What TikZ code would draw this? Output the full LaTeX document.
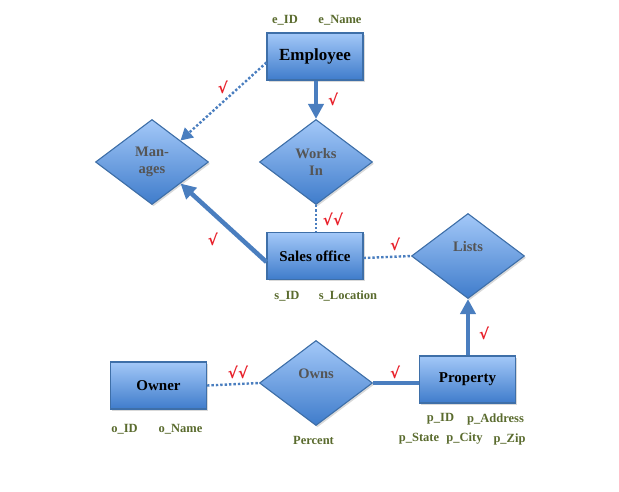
\documentclass[tikz,border=0pt]{standalone}
\usepackage{fontspec}
\setmainfont{Liberation Serif}
\newfontfamily\chkfont{DejaVu Sans}
\usetikzlibrary{shapes.geometric,arrows.meta,shadows}
\definecolor{boxtop}{HTML}{A3C8F8}
\definecolor{boxbot}{HTML}{3F7CCB}
\definecolor{edgec}{HTML}{3E6FA8}
\definecolor{linec}{HTML}{4A7EBF}
\definecolor{attrc}{HTML}{5A6B2E}
\definecolor{dgray}{HTML}{555555}
\definecolor{chk}{HTML}{E8202A}
\begin{document}
\begin{tikzpicture}[x=1pt,y=-1pt,
  entity/.style={rectangle, draw=edgec, line width=1.1pt, top color=boxtop, bottom color=boxbot,
    minimum width=96pt, minimum height=47pt, inner sep=0pt,
    font=\bfseries\fontsize{15}{17}\selectfont,
    drop shadow={shadow xshift=1.5pt, shadow yshift=-1.8pt, opacity=0.3}},
  rel/.style={diamond, draw=edgec, line width=1.1pt, top color=boxtop, bottom color=boxbot,
    minimum width=113pt, minimum height=85pt, inner sep=0pt, align=center, text=dgray,
    font=\bfseries\fontsize{14.5}{17}\selectfont,
    drop shadow={shadow xshift=1.5pt, shadow yshift=-1.8pt, opacity=0.3}},
  attr/.style={text=attrc, font=\bfseries\fontsize{12.5}{14}\selectfont, inner sep=0pt},
  chkm/.style={text=chk, font=\chkfont\bfseries\fontsize{15}{16}\selectfont, inner sep=0pt},
  thick line/.style={draw=linec, line width=4.5pt},
  dot line/.style={draw=linec, line width=2.4pt, dotted},
  bigtip/.style={-{Triangle[width=15pt,length=15pt]}}
]
\useasboundingbox (0,0) rectangle (619,491);

% entities
\node[entity, font=\bfseries\fontsize{17}{19}\selectfont] (emp) at (315,56.5) {Employee};
\node[entity] (sales) at (315,256) {Sales office};
\node[entity] (prop) at (467.5,379.5) {Property};
\node[entity] (owner) at (158.5,385.5) {Owner};

% relationships
\node[rel] (works) at (316,162) {Works\\In};
\node[rel] (man) at (152,162) {Man-\\ages};
\node[rel] (lists) at (468,256) {Lists\\[2pt]~};
\node[rel] (owns) at (316,383) {Owns\\[2pt]~};

% connectors
\draw[dot line, -{Triangle[width=13pt,length=12pt]}] ([yshift=-6pt]emp.west) -- (man.north east);
\draw[thick line, bigtip] (works.north |- emp.south) -- (works.north);
\draw[dot line] (works.south) -- (works.south |- sales.north);
\draw[thick line, bigtip] ([yshift=-6pt]sales.west) -- (man.south east);
\draw[dot line] ([yshift=-2pt]sales.east) -- (lists.west);
\draw[thick line, bigtip] (lists.south |- prop.north) -- (lists.south);
\draw[dot line] (owner.east) -- (owns.west);
\draw[draw=linec, line width=3.8pt] (owns.east) -- (owns.east -| prop.west);

% check marks
\node[chkm] (c1) at (223,87) {√};
\node[chkm] (c2) at (333,99) {√};
\node[chkm] (c3) at (333,219) {√√};
\node[chkm] (c4) at (213,239) {√};
\node[chkm] (c5) at (395,244) {√};
\node[chkm] (c6) at (238,372) {√√};
\node[chkm] (c7) at (395,372) {√};
\node[chkm] (c8) at (484,333) {√};

% attributes
\node[attr] (a1) at (285,20) {e\_ID};
\node[attr] (a2) at (340,20) {e\_Name};
\node[attr] (a3) at (287,296) {s\_ID};
\node[attr] (a4) at (348,296) {s\_Location};
\node[attr] (a5) at (124.5,429) {o\_ID};
\node[attr] (a6) at (180.5,429) {o\_Name};
\node[attr] (a7) at (313.5,440) {Percent};
\node[attr] (a8) at (440.5,419) {p\_ID};
\node[attr] (a9) at (495.5,419) {p\_Address};
\node[attr] (a10) at (419,439) {p\_State};
\node[attr] (a11) at (464.5,439) {p\_City};
\node[attr] (a12) at (509.5,439) {p\_Zip};
\end{tikzpicture}
\end{document}
